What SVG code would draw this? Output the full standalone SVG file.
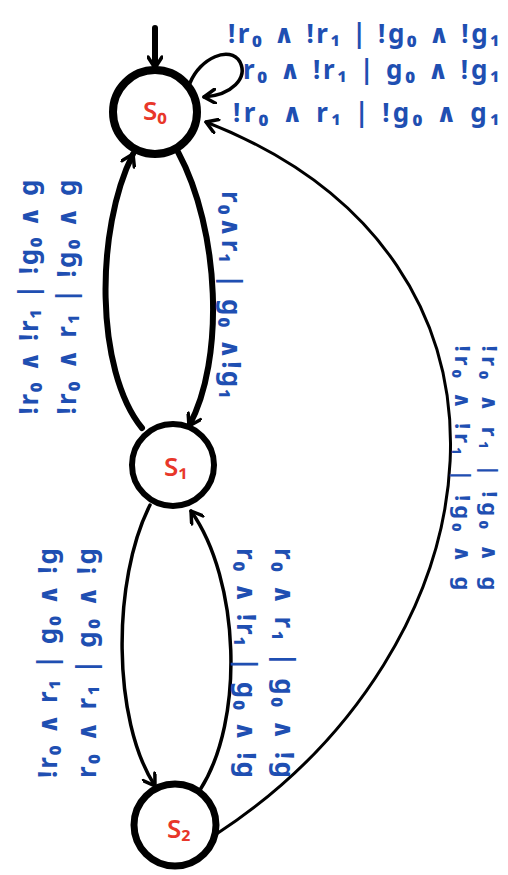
<svg xmlns="http://www.w3.org/2000/svg" width="508" height="875" viewBox="0 0 508 875">
<style>
.st{fill:#fff;stroke:#000}
.sl{font-family:"Noto Sans","DejaVu Sans",sans-serif;font-weight:600;font-size:26px;fill:#e8372a;text-anchor:middle;dominant-baseline:central}
.lb{font-family:"Noto Sans","DejaVu Sans",sans-serif;font-weight:bold;font-size:26px;fill:#1f4fb2}
.sm{font-size:22px}
.rl{text-anchor:middle;dominant-baseline:central}
.e{fill:none;stroke:#000;stroke-linecap:round}
</style>
<defs>
<marker id="ah" viewBox="0 0 16 16" refX="13" refY="8" markerWidth="16" markerHeight="16" markerUnits="userSpaceOnUse" orient="auto">
<path d="M2,1 L13,8 L2,15" fill="none" stroke="#000" stroke-width="3.5" stroke-linecap="round" stroke-linejoin="round"/>
</marker>
</defs>
<rect width="508" height="875" fill="#fff"/>
<g id="connectors">
<path class="e" d="M155,28 L155,68" stroke-width="6" marker-end="url(#ah)"/>
<path class="e" d="M190,83 C200,58 230,45 240,62 C248,78 232,95 204,97" stroke-width="3.5" marker-end="url(#ah)"/>
<path class="e" d="M178,152 C220,230 225,360 189,426" stroke-width="6" marker-end="url(#ah)"/>
<path class="e" d="M142,428 C95,370 95,230 133,154" stroke-width="6" marker-end="url(#ah)"/>
<path class="e" d="M150,505 C112,580 112,720 155,786" stroke-width="3.5" marker-end="url(#ah)"/>
<path class="e" d="M200,790 C245,720 240,580 191,511" stroke-width="3.5" marker-end="url(#ah)"/>
<path class="e" d="M215,835 C500,650 560,260 206,122" stroke-width="3" marker-end="url(#ah)"/>
</g>
<g id="s0"><circle class="st" cx="155" cy="112" r="42" stroke-width="8"/><text class="sl" x="155" y="110">S₀</text></g>
<g id="s1"><circle class="st" cx="173" cy="465" r="41" stroke-width="6"/><text class="sl" x="176" y="466">S₁</text></g>
<g id="s2"><circle class="st" cx="175" cy="825" r="41" stroke-width="7"/><text class="sl" x="179" y="828">S₂</text></g>
<g id="labels">
<text class="lb" x="228" y="43" textLength="272" lengthAdjust="spacing">!r₀ ∧ !r₁ | !g₀ ∧ !g₁</text>
<text class="lb" x="243" y="79" textLength="257" lengthAdjust="spacing">r₀ ∧ !r₁ |  g₀ ∧ !g₁</text>
<text class="lb" x="233" y="122" textLength="267" lengthAdjust="spacing">!r₀ ∧  r₁ | !g₀ ∧  g₁</text>
<text class="lb rl" transform="translate(28,297) rotate(-90)" textLength="235" lengthAdjust="spacing">!r₀ ∧ !r₁ | !g₀ ∧ g</text>
<text class="lb rl" transform="translate(66,297) rotate(-90)" textLength="235" lengthAdjust="spacing">!r₀ ∧ r₁ | !g₀ ∧ g</text>
<text class="lb rl" transform="translate(232,295) rotate(90)" textLength="208" lengthAdjust="spacing">r₀∧r₁ | g₀ ∧!g₁</text>
<text class="lb sm rl" transform="translate(464,468) rotate(90)" textLength="245" lengthAdjust="spacing">!r₀ ∧ !r₁ | !g₀ ∧ g</text>
<text class="lb sm rl" transform="translate(491,468) rotate(90)" textLength="245" lengthAdjust="spacing">!r₀ ∧ r₁ | !g₀ ∧ g</text>
<text class="lb rl" transform="translate(47,663) rotate(-90)" textLength="230" lengthAdjust="spacing">!r₀ ∧ r₁ | g₀ ∧ !g</text>
<text class="lb rl" transform="translate(86,663) rotate(-90)" textLength="230" lengthAdjust="spacing">r₀ ∧ r₁ | g₀ ∧ !g</text>
<text class="lb rl" transform="translate(247,663) rotate(90)" textLength="230" lengthAdjust="spacing">r₀ ∧ !r₁ | g₀ ∧ !g</text>
<text class="lb rl" transform="translate(285,663) rotate(90)" textLength="230" lengthAdjust="spacing">r₀ ∧ r₁ | g₀ ∧ !g</text>
</g>
</svg>
